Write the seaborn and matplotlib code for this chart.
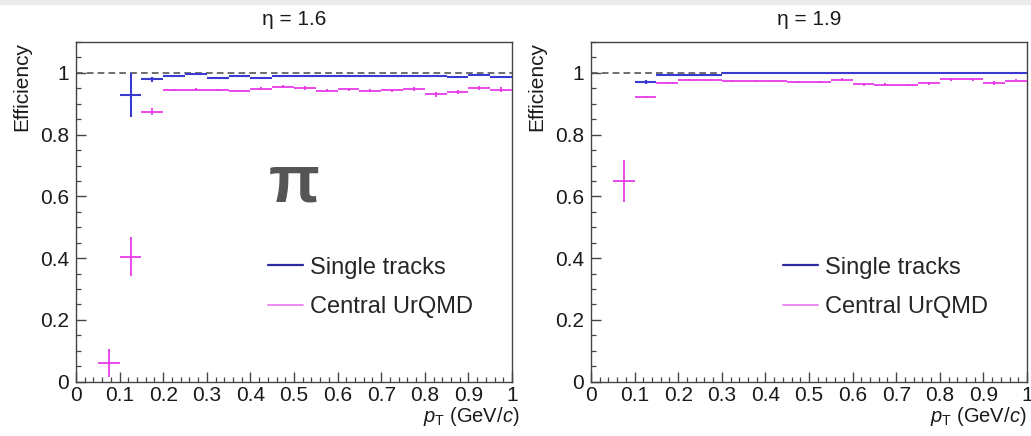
import numpy as np
import matplotlib
matplotlib.use("Agg")
import matplotlib.pyplot as plt
from matplotlib.lines import Line2D
from matplotlib.ticker import MultipleLocator, FuncFormatter
import seaborn as sns

# ---------------- data ----------------
pt_centers = [0.075, 0.125, 0.175, 0.225, 0.275, 0.325, 0.375, 0.425, 0.475, 0.525,
              0.575, 0.625, 0.675, 0.725, 0.775, 0.825, 0.875, 0.925, 0.975]
pt_halfwidth = 0.025

eta_titles = ["η = 1.6", "η = 1.9"]

eff_single_16 = [np.nan, 0.928, 0.979, 0.989, 0.997, 0.985, 0.990, 0.985, 0.990, 0.989,
                 0.990, 0.989, 0.990, 0.990, 0.989, 0.990, 0.987, 0.993, 0.987]
err_single_16 = [np.nan, 0.070, 0.008, 0.003, 0.003, 0.003, 0.003, 0.003, 0.003, 0.003,
                 0.003, 0.003, 0.003, 0.003, 0.003, 0.003, 0.003, 0.003, 0.003]
eff_urqmd_16 = [0.061, 0.405, 0.874, 0.944, 0.946, 0.944, 0.942, 0.949, 0.955, 0.951,
                0.942, 0.947, 0.942, 0.944, 0.947, 0.930, 0.938, 0.951, 0.946]
err_urqmd_16 = [0.045, 0.062, 0.012, 0.004, 0.004, 0.004, 0.004, 0.004, 0.005, 0.005,
                0.005, 0.005, 0.005, 0.005, 0.006, 0.008, 0.007, 0.007, 0.009]

eff_single_19 = [np.nan, 0.971, 0.993, 0.993, 0.994, 0.999, 0.999, 0.999, 0.999, 0.999,
                 0.999, 0.999, 0.999, 0.999, 0.999, 0.999, 0.999, 0.999, 0.999]
err_single_19 = [np.nan, 0.006, 0.002, 0.002, 0.002, 0.001, 0.001, 0.001, 0.001, 0.001,
                 0.001, 0.001, 0.001, 0.001, 0.001, 0.001, 0.001, 0.001, 0.001]
eff_urqmd_19 = [0.650, 0.922, 0.967, 0.976, 0.976, 0.974, 0.974, 0.974, 0.971, 0.971,
                0.978, 0.963, 0.962, 0.960, 0.966, 0.979, 0.979, 0.968, 0.975]
err_urqmd_19 = [0.067, 0.004, 0.003, 0.003, 0.003, 0.003, 0.003, 0.003, 0.003, 0.003,
                0.004, 0.004, 0.004, 0.004, 0.004, 0.004, 0.004, 0.006, 0.006]

series_labels = ["Single tracks", "Central UrQMD"]

# ---------------- style ----------------
sns.set_theme(style="ticks")
plt.rcParams["font.family"] = ["Liberation Sans", "DejaVu Sans"]
plt.rcParams["mathtext.fontset"] = "custom"
plt.rcParams["mathtext.rm"] = "Liberation Sans"
plt.rcParams["mathtext.it"] = "Liberation Sans:italic"

col_single = "#3a3ad0"
col_urqmd = "#e83ae8"
leg_single = "#2c2ca0"
leg_urqmd = "#ee80ee"
frame_col = "#444444"
text_col = "#1a1a1a"

fig = plt.figure(figsize=(10.31, 4.36), dpi=100)
fig.patches.append(plt.Rectangle((0, 1 - 4 / 436), 1, 4 / 436, transform=fig.transFigure,
                                 color="#ececec", zorder=0))

ax_w = 436 / 1031
ax_h = 339.7 / 436
ax_b = 1 - 381.7 / 436
axes = [fig.add_axes([76 / 1031, ax_b, ax_w, ax_h]),
        fig.add_axes([591 / 1031, ax_b, ax_w, ax_h])]

panels = [
    (eff_single_16, err_single_16, eff_urqmd_16, err_urqmd_16),
    (eff_single_19, err_single_19, eff_urqmd_19, err_urqmd_19),
]
xlabel_x = [1.016, 0.998]

fmt = FuncFormatter(lambda v, p: f"{v:g}")

for ax, title, (es, ss, eu, su), xlx in zip(axes, eta_titles, panels, xlabel_x):
    x = np.array(pt_centers)
    # reference line at efficiency = 1
    sns.lineplot(x=[0.0, 1.0], y=[1.0, 1.0], ax=ax, color="#555555", lw=1.2,
                 dashes=False, linestyle=(0, (4, 2.5)), zorder=1)
    ax.errorbar(x, eu, xerr=pt_halfwidth, yerr=su, fmt="none", ecolor=col_urqmd,
                elinewidth=1.3, capsize=0, zorder=3)
    ax.errorbar(x, es, xerr=pt_halfwidth, yerr=ss, fmt="none", ecolor=col_single,
                elinewidth=1.5, capsize=0, zorder=4)

    ax.set_xlim(0, 1)
    ax.set_ylim(0, 1.1)
    ax.xaxis.set_major_locator(MultipleLocator(0.1))
    ax.xaxis.set_minor_locator(MultipleLocator(0.02))
    ax.yaxis.set_major_locator(MultipleLocator(0.2))
    ax.yaxis.set_minor_locator(MultipleLocator(0.05))
    ax.xaxis.set_major_formatter(fmt)
    ax.yaxis.set_major_formatter(fmt)
    ax.tick_params(axis="both", which="both", direction="in", colors=frame_col,
                   labelcolor=text_col, top=False, right=False)
    ax.tick_params(axis="both", which="major", length=7, width=1.0, labelsize=15)
    ax.tick_params(axis="both", which="minor", length=3.8, width=0.9)
    ax.tick_params(axis="y", which="major", pad=5)
    ax.tick_params(axis="x", which="major", pad=3)
    for s in ax.spines.values():
        s.set_visible(True)
        s.set_color(frame_col)
        s.set_linewidth(1.0)

    ax.set_title(title, fontsize=15, color=text_col, pad=12)
    ax.set_ylabel("Efficiency", fontsize=15, color=text_col, loc="top")
    ax.yaxis.set_label_coords(-0.102, 1.0)
    ax.set_xlabel(r"$p_{\mathrm{T}}$ (GeV/$c$)", fontsize=14.5, color=text_col, loc="right")
    ax.xaxis.set_label_coords(xlx, -0.07)

    handles = [Line2D([], [], color=leg_single, lw=1.6),
               Line2D([], [], color=leg_urqmd, lw=1.3)]
    ax.legend(handles, series_labels, loc="center left", bbox_to_anchor=(0.44, 0.277),
              frameon=False, fontsize=17, handlelength=1.5, handletextpad=0.3,
              labelspacing=0.75, borderpad=0, borderaxespad=0)

axes[0].text(0.50, 0.64, "π", transform=axes[0].transData, fontsize=48,
             fontweight="bold", color="#555555", ha="center", va="center")

fig.savefig("out.png", dpi=100)
